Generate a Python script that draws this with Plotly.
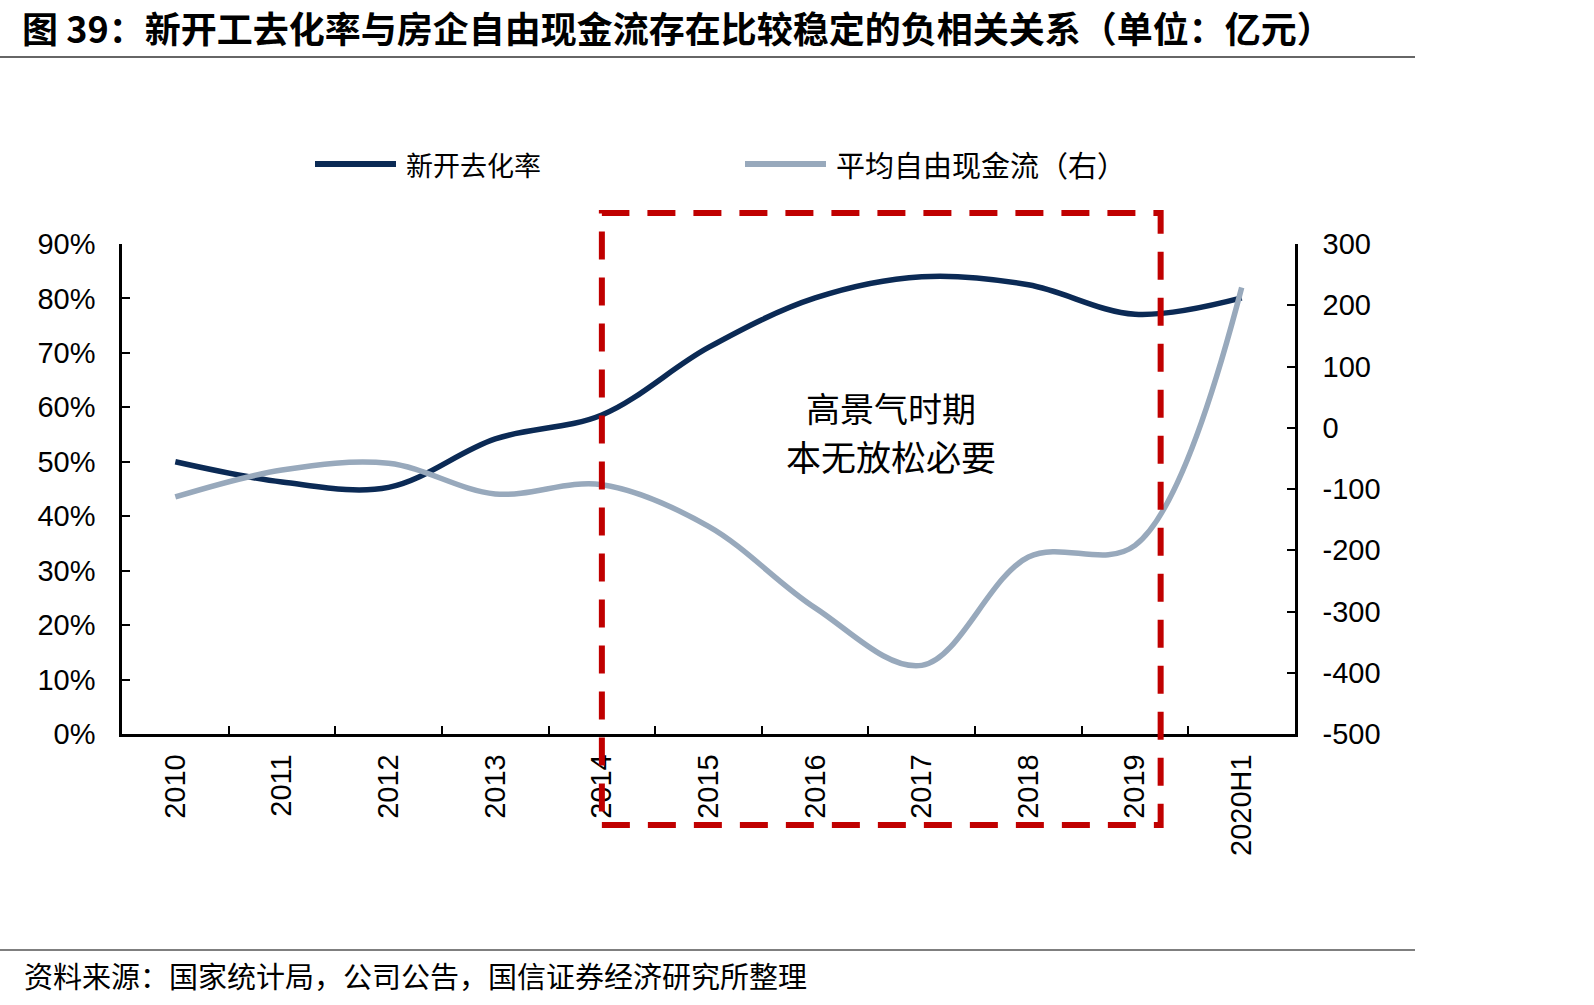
import plotly.graph_objects as go

# ---------------- data ----------------
categories = ["2010", "2011", "2012", "2013", "2014", "2015", "2016", "2017", "2018", "2019", "2020H1"]
destock_rate = [0.500, 0.463, 0.453, 0.542, 0.586, 0.710, 0.801, 0.840, 0.825, 0.771, 0.801]
free_cash_flow = [-113, -69, -58, -108, -93, -161, -294, -388, -211, -192, 229]

series_names = ["新开去化率", "平均自由现金流（右）"]
title_text = "图 39：新开工去化率与房企自由现金流存在比较稳定的负相关关系（单位：亿元）"
source_text = "资料来源：国家统计局，公司公告，国信证券经济研究所整理"
box_lines = ["高景气时期", "本无放松必要"]
box_start_cat = "2014"
box_end_cat = "2019"

left_ticks = [i / 10 for i in range(10)]
right_ticks = list(range(-500, 301, 100))
right_ticktext = [str(v) for v in right_ticks]

# ---------------- layout constants ----------------
W, H = 1594, 1005
L, R, T, B = 122, 1295, 244, 734
DARK = "#0B2A55"
LIGHT = "#98A9BC"
RED = "#C00000"
TICKFONT = dict(family="Liberation Sans, Arial, sans-serif", size=29, color="#000000")
CJK = "Noto Sans CJK SC"


def px_x(x):
    return (x - L) / (R - L)


def px_y(y):
    return (B - y) / (B - T)


fig = go.Figure()
fig.add_trace(go.Scatter(
    x=categories, y=destock_rate, name=series_names[0], mode="lines",
    line=dict(color=DARK, width=5.5, shape="spline", smoothing=1.0),
    yaxis="y", showlegend=False))
fig.add_trace(go.Scatter(
    x=categories, y=free_cash_flow, name=series_names[1], mode="lines",
    line=dict(color=LIGHT, width=5.5, shape="spline", smoothing=1.0),
    yaxis="y2", showlegend=False))

axis_common = dict(showline=True, linecolor="#000000", linewidth=2.5,
                   ticks="inside", ticklen=8, tickwidth=2, tickcolor="#000000",
                   showgrid=False, zeroline=False, tickfont=TICKFONT)

fig.update_layout(
    width=W, height=H, autosize=False,
    margin=dict(l=L, r=W - R, t=T, b=H - B, pad=0),
    paper_bgcolor="#FFFFFF", plot_bgcolor="#FFFFFF",
    xaxis=dict(type="category", tickangle=-90, tickson="boundaries",
               ticklabelstandoff=6, range=[-0.5, len(categories) - 0.5],
               **axis_common),
    yaxis=dict(range=[0, 0.9], tickvals=left_ticks, tickformat=".0%",
               ticklabelstandoff=18, **axis_common),
    yaxis2=dict(range=[-500, 300], tickvals=right_ticks, ticktext=right_ticktext,
                overlaying="y", side="right",
                ticklabelstandoff=19, **axis_common),
)

shapes = []
# red dashed box (from category index)
n = len(categories)
i0 = categories.index(box_start_cat)
i1 = categories.index(box_end_cat) + 0.24
shapes.append(dict(type="rect", xref="paper", yref="paper",
                   x0=(i0 + 0.5) / n, x1=(i1 + 0.5) / n,
                   y0=px_y(825), y1=px_y(213),
                   line=dict(color=RED, width=6, dash="28px,18px"),
                   fillcolor="rgba(0,0,0,0)", layer="above"))
# title & footer rules
shapes.append(dict(type="line", xref="paper", yref="paper",
                   x0=px_x(0), x1=px_x(1415), y0=px_y(57), y1=px_y(57),
                   line=dict(color="#333333", width=1.5)))
shapes.append(dict(type="line", xref="paper", yref="paper",
                   x0=px_x(0), x1=px_x(1415), y0=px_y(950), y1=px_y(950),
                   line=dict(color="#555555", width=1.5)))
# legend line symbols
shapes.append(dict(type="line", xref="paper", yref="paper",
                   x0=px_x(315), x1=px_x(396), y0=px_y(164), y1=px_y(164),
                   line=dict(color=DARK, width=6)))
shapes.append(dict(type="line", xref="paper", yref="paper",
                   x0=px_x(745), x1=px_x(826), y0=px_y(164), y1=px_y(164),
                   line=dict(color=LIGHT, width=6)))
fig.update_layout(shapes=shapes)

annotations = [
    dict(text=title_text, x=px_x(20), y=px_y(27), xanchor="left", yanchor="middle",
         font=dict(family=CJK, size=36, color="#000000", weight="bold")),
    dict(text=source_text, x=px_x(22), y=px_y(975), xanchor="left", yanchor="middle",
         font=dict(family=CJK, size=29, color="#000000")),
    dict(text=series_names[0], x=px_x(404), y=px_y(164), xanchor="left", yanchor="middle",
         font=dict(family=CJK, size=27, color="#000000")),
    dict(text=series_names[1], x=px_x(834), y=px_y(164), xanchor="left", yanchor="middle",
         font=dict(family=CJK, size=29, color="#000000")),
    dict(text=box_lines[0], x=px_x(891), y=px_y(407), xanchor="center", yanchor="middle",
         font=dict(family=CJK, size=34, color="#000000")),
    dict(text=box_lines[1], x=px_x(891), y=px_y(455), xanchor="center", yanchor="middle",
         font=dict(family=CJK, size=35, color="#000000")),
]
for a in annotations:
    a.update(xref="paper", yref="paper", showarrow=False)
fig.update_layout(annotations=annotations)

fig.write_html("out.html")
